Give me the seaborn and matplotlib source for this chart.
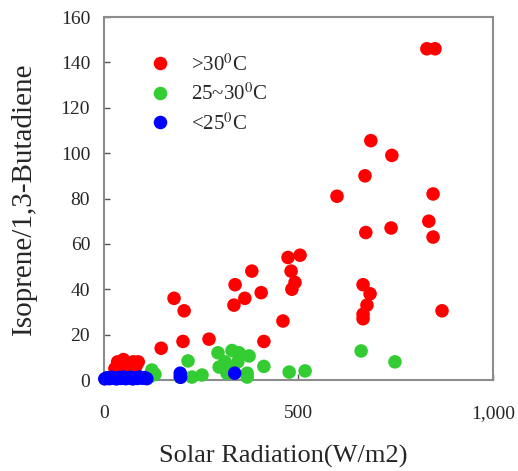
"""
Isoprene/1,3-butadiene ratio vs solar radiation, coloured by temperature
"""

import pandas as pd
import seaborn as sns
import matplotlib.pyplot as plt

# >30 C
hot_x = [830, 851, 686, 740, 671, 599, 846, 835, 738, 673, 846, 504, 473, 481,
         380, 491, 483, 666, 684, 676, 666, 666, 869, 337, 404, 362, 334, 180,
         206, 460, 147, 203, 270, 411,
         28, 35, 42, 50, 58, 66, 75, 82, 88]
hot_y = [146, 146, 105.5, 99, 90, 81, 82, 70, 67, 65, 63, 55, 54, 48,
         48, 43, 40, 42, 38, 33, 29, 27, 30.5, 42, 38.5, 36, 33, 36,
         30.5, 26, 14, 17, 18, 17,
         5, 8, 6, 9, 5, 7, 8, 6, 8]

# 25~30 C
warm_x = [123, 131, 118, 216, 226, 252, 195, 293, 329, 347, 373, 311, 296,
          344, 316, 316, 368, 411, 476, 368, 517, 661, 748]
warm_y = [4.4, 2.5, 1.5, 8.4, 1.3, 2.2, 1.3, 12, 13, 12, 10.6, 8, 5.7,
          8, 5.3, 3, 3, 6, 3.5, 1.3, 4, 12.8, 8]

# <25 C
cool_x = [2, 8, 14, 20, 26, 32, 38, 44, 50, 56, 62, 68, 74, 80, 86, 92, 98,
          104, 110, 196, 197, 336]
cool_y = [0.5, 1.0, 0.6, 1.2, 0.8, 0.5, 1.1, 0.7, 1.3, 0.6, 0.9, 1.2, 0.5,
          1.0, 0.7, 1.3, 0.8, 1.1, 0.6, 3, 1.2, 3]

labels = ['>30$^0$C', '25~30$^0$C', '<25$^0$C']
colors = ['#ff0000', '#33cc33', '#0000ff']

data = pd.concat([
    pd.DataFrame({'rad': hot_x, 'ratio': hot_y, 'temp': labels[0]}),
    pd.DataFrame({'rad': warm_x, 'ratio': warm_y, 'temp': labels[1]}),
    pd.DataFrame({'rad': cool_x, 'ratio': cool_y, 'temp': labels[2]}),
], ignore_index=True)

sns.set_style('white')
plt.rcParams['font.family'] = ['Liberation Serif', 'DejaVu Serif']
plt.rcParams['mathtext.fontset'] = 'stix'

fig = plt.figure(figsize=(5.18, 4.71), dpi=100)
ax = fig.add_axes([0.2008, 0.1932, 0.7509, 0.7707])

sns.scatterplot(x='rad', y='ratio', hue='temp', data=data, palette=colors,
                hue_order=labels, s=95, linewidth=0, alpha=1, ax=ax,
                clip_on=False, zorder=3)

ax.set_xlim(0, 1000)
ax.set_ylim(0, 160)
ax.set_xticks([0, 500, 1000])
ax.set_xticklabels(['0', '500', '1,000'])
ax.set_yticks(range(0, 161, 20))
ax.tick_params(direction='in', length=4, width=1, color='#555555',
               labelsize=14, left=True, bottom=True)
ax.tick_params(axis='x', pad=18)
ax.tick_params(axis='y', pad=10)
for side in ['left', 'bottom', 'top', 'right']:
    ax.spines[side].set_color('#8c8c8c')
    ax.spines[side].set_linewidth(1.5)

ax.set_xlabel('Solar Radiation(W/m2)', fontsize=19)
ax.xaxis.set_label_coords(0.46, -0.18)
ax.set_ylabel('Isoprene/1,3-Butadiene', fontsize=21, labelpad=17)

ax.legend(loc='upper left', bbox_to_anchor=(0.042, 0.95), frameon=False,
          fontsize=15, markerscale=1.0, handletextpad=0.5, labelspacing=0.4,
          title=None)

plt.savefig('out.png', dpi=100)
